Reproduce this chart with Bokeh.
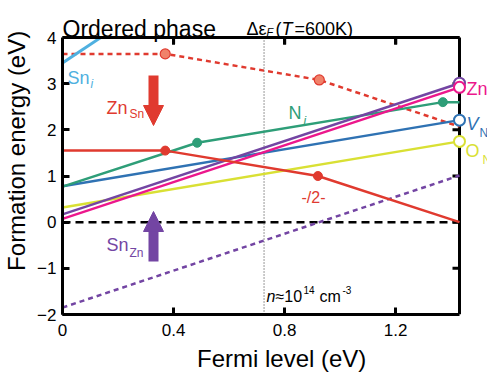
from bokeh.plotting import figure
from bokeh.models import Range1d, FixedTicker, Label, Arrow, NormalHead
from bokeh.embed import file_html
from bokeh.resources import INLINE

# ---------------- data ----------------
x_max = 1.43
y_min, y_max = -2, 4
sn_i_x = [0.0, 0.15]
sn_i_y = [3.45, 4.05]
zn_sn_x = [0.0, 0.37, 0.92, 1.43]
zn_sn_y = [1.55, 1.55, 1.00, 0.00]
zn_sn_dot_x = [0.37, 0.92]
zn_sn_dot_y = [1.55, 1.00]
zn_sn2_x = [0.0, 0.37, 0.925, 1.43]
zn_sn2_y = [3.645, 3.645, 3.08, 2.07]
zn_sn2_dot_x = [0.37, 0.925]
zn_sn2_dot_y = [3.645, 3.08]
n_i_x = [0.0, 0.485, 1.37, 1.43]
n_i_y = [0.77, 1.72, 2.60, 2.60]
n_i_dot_x = [0.485, 1.37]
n_i_dot_y = [1.72, 2.60]
v_n_x = [0.0, 1.43]
v_n_y = [0.78, 2.21]
o_n_x = [0.0, 1.43]
o_n_y = [0.32, 1.75]
zn_i_x = [0.0, 1.43]
zn_i_y = [0.07, 2.92]
sn_zn2_x = [0.0, 1.43]
sn_zn2_y = [0.17, 3.01]
sn_zn_x = [0.0, 1.43]
sn_zn_y = [-1.85, 1.01]
zero_x = [0.0, 1.43]
zero_y = [0.0, 0.0]
fermi_600 = 0.726
x_ticks = [0, 0.4, 0.8, 1.2]
x_tick_labels = {0: "0", 0.4: "0.4", 0.8: "0.8", 1.2: "1.2"}
y_ticks = [-2, -1, 0, 1, 2, 3, 4]

# ---------------- style ----------------
RED = "#e03a2f"
SALMON = "#f0826a"
GREEN = "#2e9e78"
BLUE = "#2f72b3"
LBLUE = "#4fb0e0"
MAGENTA = "#ec178c"
PURPLE = "#7345a3"
YELLOW = "#d9e034"
FONT = "Liberation Sans"

W, H = 487, 375
FL, FT, FW, FH = 62, 37, 397, 277      # visible box of the axes
PXX = x_max / FW                        # data per px (x)
PXY = (y_max - y_min) / FH              # data per px (y)

def X(px):
    return (px - FL) * PXX

def Y(py):
    return y_max - (py - FT) * PXY

# plotting frame extends to right and top canvas edges so labels are not clipped
p = figure(width=W, height=H, output_backend="svg", toolbar_location=None,
           x_range=Range1d(0, X(W)), y_range=Range1d(y_min, Y(0)),
           frame_width=W - FL, frame_height=FT + FH,
           min_border_left=FL, min_border_right=0,
           min_border_top=0, min_border_bottom=H - FT - FH,
           x_axis_label="\u00a0\u00a0Fermi level (eV)",
           y_axis_label="\u00a0\u00a0Formation energy (eV)")
p.background_fill_color = "white"
p.border_fill_color = "white"
p.outline_line_color = None
p.grid.visible = False

for ax in (p.xaxis[0], p.yaxis[0]):
    ax.axis_line_width = 3
    ax.major_tick_line_width = 3
    ax.major_tick_in = 7
    ax.major_tick_out = 0
    ax.minor_tick_line_color = None
    ax.major_label_text_font = FONT
    ax.major_label_text_font_size = "17px"
    ax.major_label_text_color = "black"
    ax.axis_label_text_font = FONT
    ax.axis_label_text_font_size = "24px"
    ax.axis_label_text_font_style = "normal"
    ax.axis_label_text_color = "black"

p.xaxis[0].ticker = FixedTicker(ticks=x_ticks)
p.xaxis[0].bounds = (0, x_max)
p.xaxis[0].major_label_overrides = x_tick_labels
p.xaxis[0].major_label_standoff = 9
p.xaxis[0].axis_label_standoff = 6
p.yaxis[0].ticker = FixedTicker(ticks=y_ticks)
p.yaxis[0].bounds = (y_min, y_max)
p.yaxis[0].major_label_standoff = 6
p.yaxis[0].axis_label_standoff = 4

# top and right sides of the box, with inward ticks
p.segment(x0=[0, x_max], y0=[y_max, y_min], x1=[x_max, x_max], y1=[y_max, y_max],
          line_color="black", line_width=3)
p.segment(x0=x_ticks[1:], y0=[y_max] * 3, x1=x_ticks[1:], y1=[y_max - 7 * PXY] * 3,
          line_color="black", line_width=3)
p.segment(x0=[x_max - 7 * PXX] * 5, y0=y_ticks[1:-1], x1=[x_max] * 5, y1=y_ticks[1:-1],
          line_color="black", line_width=3)

# reference lines
p.line(zero_x, zero_y, line_color="black", line_width=2.5, line_dash="8 5")
p.line([fermi_600, fermi_600], [y_min, y_max], line_color="#555555",
       line_width=1.2, line_dash="1 2")

# lines
p.line(zn_sn2_x, zn_sn2_y, line_color=RED, line_width=2.5, line_dash="5 4")
p.line(sn_zn_x, sn_zn_y, line_color=PURPLE, line_width=2.5, line_dash="5 4")
p.line(o_n_x, o_n_y, line_color=YELLOW, line_width=2.5)
p.line(v_n_x, v_n_y, line_color=BLUE, line_width=2.5)
p.line(n_i_x, n_i_y, line_color=GREEN, line_width=2.5)
p.line(sn_zn2_x, sn_zn2_y, line_color=PURPLE, line_width=2.5)
p.line(zn_i_x, zn_i_y, line_color=MAGENTA, line_width=2.5)
p.line(zn_sn_x, zn_sn_y, line_color=RED, line_width=2.5)
p.line(sn_i_x, sn_i_y, line_color=LBLUE, line_width=3)

# white cover above the box top (keeps Sn_i inside the box)
p.varea(x=[0, X(W)], y1=[y_max + 1.6 * PXY] * 2, y2=[Y(0)] * 2, fill_color="white")
p.segment(x0=[0], y0=[y_max], x1=[x_max], y1=[y_max], line_color="black", line_width=3)
p.segment(x0=x_ticks[1:], y0=[y_max] * 3, x1=x_ticks[1:], y1=[y_max - 7 * PXY] * 3,
          line_color="black", line_width=3)

# markers
p.scatter(zn_sn2_dot_x, zn_sn2_dot_y, size=10, fill_color=SALMON, line_color=RED, line_width=1.2)
p.scatter(zn_sn_dot_x, zn_sn_dot_y, size=9, fill_color=RED, line_color=RED)
p.scatter(n_i_dot_x, n_i_dot_y, size=9, fill_color=GREEN, line_color=GREEN)
p.scatter([v_n_x[-1]], [v_n_y[-1]], size=11, fill_color="white", line_color=BLUE, line_width=2)
p.scatter([o_n_x[-1]], [o_n_y[-1]], size=11, fill_color="white", line_color=YELLOW, line_width=2)
p.scatter([sn_zn2_x[-1]], [sn_zn2_y[-1]], size=11, fill_color="white", line_color=PURPLE, line_width=2)
p.scatter([zn_i_x[-1]], [zn_i_y[-1]], size=11, fill_color="white", line_color=MAGENTA, line_width=2)

# arrows
p.add_layout(Arrow(x_start=X(153), y_start=Y(75), x_end=X(153), y_end=Y(125),
                   line_color=RED, line_width=10,
                   end=NormalHead(size=20, fill_color=RED, line_color=RED, line_width=1)))
p.add_layout(Arrow(x_start=X(153), y_start=Y(261), x_end=X(153), y_end=Y(211),
                   line_color=PURPLE, line_width=10,
                   end=NormalHead(size=20, fill_color=PURPLE, line_color=PURPLE, line_width=1)))

def lab(text, px, py, size, color="black", style="normal"):
    p.add_layout(Label(x=X(px), y=Y(py), text=text, text_font=FONT,
                       text_font_size=f"{size}px", text_color=color,
                       text_font_style=style, text_baseline="alphabetic",
                       text_align="left"))

# title and annotations
lab("Ordered phase", 62, 28, 23)
lab("Δε", 246, 28, 18)
lab("F", 266, 31, 11, style="italic")
lab("(", 275, 28, 18)
lab("T", 281, 28, 18, style="italic")
lab("=600K)", 294, 28, 18)
lab("n", 266, 296, 16, style="italic")
lab("≈10", 275, 296, 16)
lab("14", 303, 289, 10)
lab("cm", 319, 296, 16)
lab("-3", 342, 289, 10)

# species labels
lab("Sn", 67, 77, 18, LBLUE)
lab("i", 90, 83, 12, LBLUE, "italic")
lab("Zn", 106, 107, 18, RED)
lab("Sn", 129, 113, 12, RED)
lab("N", 288, 112, 18, GREEN)
lab("i", 303, 120, 12, GREEN, "italic")
lab("-/2-", 301, 197, 16, RED)
lab("Sn", 106, 244, 18, PURPLE)
lab("Zn", 129, 252, 12, PURPLE)
lab("Zn", 466, 88, 18, MAGENTA)
lab("V", 466, 123, 18, BLUE, "italic")
lab("N", 479, 132, 12, BLUE)
lab("O", 465, 150, 18, YELLOW)
lab("N", 482, 159, 12, YELLOW)

open("out.html", "w").write(file_html(p, INLINE))
